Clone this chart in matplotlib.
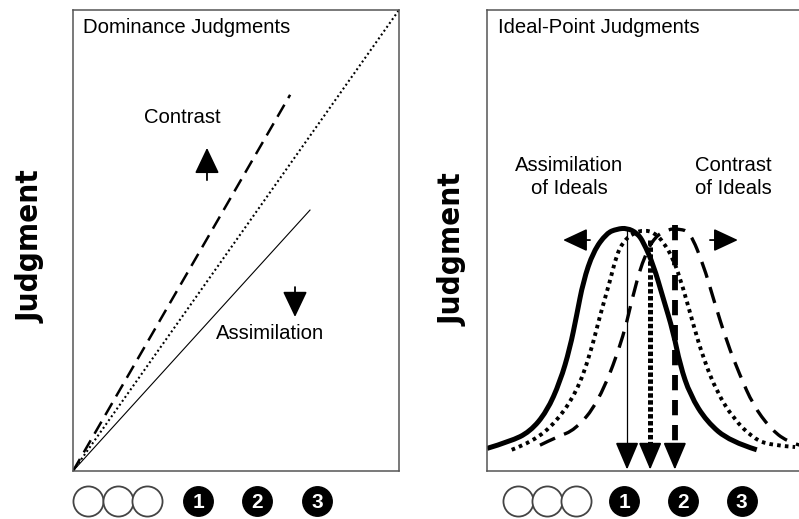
import matplotlib
matplotlib.use("Agg")
import matplotlib.pyplot as plt
from matplotlib import font_manager
from matplotlib.path import Path
from matplotlib.patches import PathPatch

plt.rcParams['font.family'] = ['Liberation Sans', 'DejaVu Sans']
plt.rcParams['lines.scale_dashes'] = False

# ---- data (stimulus scale 0..100, judgment scale 0..100) ----
# left panel: dominance judgments, straight lines from the origin
dom_identity_x = [0, 100]
dom_identity_y = [0, 100]
dom_contrast_x = [0, 66.6]
dom_contrast_y = [0, 81.6]
dom_assim_x = [0, 72.7]
dom_assim_y = [0, 56.6]

# right panel: ideal-point curves
ideal_solid_x = [0.0, 7.1, 13.2, 18.4, 22.5, 25.5, 27.6, 29.6, 32.7, 36.8, 40.0, 43.1,
                 46.2, 48.1, 51.2, 54.2, 57.3, 59.4, 62.5, 67.6, 74.8, 83.0]
ideal_solid_y = [4.9, 6.4, 8.5, 12.9, 19.4, 26.6, 33.8, 41.1, 47.6, 51.6, 52.5, 52.7,
                 51.6, 49.7, 44.7, 37.5, 30.2, 23.0, 16.5, 10.7, 6.4, 4.6]
ideal_dotted_x = [7.6, 14.2, 21.4, 27.6, 31.7, 34.8, 37.8, 39.9, 41.9, 44.9, 48.6, 51.7,
                  54.2, 57.3, 60.4, 63.5, 66.6, 70.7, 75.8, 81.9, 87.1, 94.8]
ideal_dotted_y = [4.6, 6.4, 10.7, 17.2, 25.2, 33.8, 41.1, 46.9, 49.7, 51.6, 52.3, 51.6,
                  49.7, 46.1, 39.6, 31.7, 24.4, 17.2, 11.4, 7.1, 5.6, 5.2]
ideal_dashed_x = [16.3, 21.5, 27.1, 34.2, 41.5, 45.5, 48.6, 51.7, 55.7, 59.4, 62.5,
                  66.6, 69.6, 73.8, 77.8, 81.9, 87.1, 92.2, 96.3]
ideal_dashed_y = [5.6, 7.4, 8.9, 14.8, 27.8, 39.9, 46.9, 50.8, 52.5, 52.5, 51.8,
                  44.7, 37.5, 28.0, 20.8, 14.3, 9.3, 6.4, 5.6]

# ideal points (x) and top of each drop line (y)
ideal_points = [43.1, 50.2, 57.8]
ideal_tops = [52.7, 50.1, 53.4]

# stimulus circles under each panel
left_anchor_x = [4.7, 13.7, 22.6]
left_stim_x = [38.4, 56.4, 74.8]
right_anchor_x = [9.4, 18.6, 27.3]
right_stim_x = [42.2, 60.4, 78.4]
stim_labels = ['1', '2', '3']

FS = 14.6

fig = plt.figure(figsize=(7.99, 5.19), dpi=100)
ax1 = fig.add_axes([73 / 799, 48 / 519, 326 / 799, 461 / 519])
ax2 = fig.add_axes([487 / 799, 48 / 519, 325 / 799, 461 / 519])

for ax in (ax1, ax2):
    ax.set_xlim(0, 100)
    ax.set_ylim(0, 100)
    ax.set_xticks([])
    ax.set_yticks([])
    for s in ax.spines.values():
        s.set_color('#555555')
        s.set_linewidth(1.1)


def arrow(ax, xy, xytext, hl=0.8, hw=0.38, ms=20):
    ax.annotate('', xy=xy, xytext=xytext,
                arrowprops=dict(arrowstyle='-|>,head_length=%s,head_width=%s' % (hl, hw),
                                mutation_scale=ms, color='black', lw=1.3,
                                shrinkA=0, shrinkB=0))


def smooth_curve(ax, xs, ys, **kw):
    # quadratic bezier through midpoints, read points act as control points
    pts = list(zip(xs, ys))
    verts = [pts[0]]
    codes = [Path.MOVETO]
    for i in range(1, len(pts) - 1):
        mid = ((pts[i][0] + pts[i + 1][0]) / 2, (pts[i][1] + pts[i + 1][1]) / 2)
        if i == len(pts) - 2:
            mid = pts[-1]
        verts += [pts[i], mid]
        codes += [Path.CURVE3, Path.CURVE3]
    ax.add_patch(PathPatch(Path(verts, codes), fill=False, edgecolor='black',
                           capstyle='butt', joinstyle='round', **kw))


def circles(ax, anchors, stims):
    tr = ax.get_xaxis_transform()
    ax.scatter(anchors, [-0.064] * len(anchors), s=470, transform=tr, clip_on=False,
               facecolor='white', edgecolor='#444444', linewidth=1.3, zorder=5)
    ax.scatter(stims, [-0.064] * len(stims), s=450, transform=tr, clip_on=False,
               facecolor='black', edgecolor='black', zorder=5)
    for x, lab in zip(stims, stim_labels):
        ax.text(x, -0.064, lab, transform=tr, color='white', fontsize=15,
                fontweight='bold', ha='center', va='center_baseline', zorder=6)


# ---- left panel ----
ax1.plot(dom_identity_x, dom_identity_y, color='black', lw=1.5, dashes=(1.4, 2.0))
ax1.plot(dom_contrast_x, dom_contrast_y, color='black', lw=1.8, dashes=(10, 5.5))
ax1.plot(dom_assim_x, dom_assim_y, color='black', lw=0.8)
ax1.text(3.1, 96.3, 'Dominance Judgments', fontsize=FS, va='center', ha='left')
ax1.text(33.4, 76.6, 'Contrast', fontsize=FS, ha='center', va='center')
ax1.text(60.4, 29.9, 'Assimilation', fontsize=FS, ha='center', va='center')
arrow(ax1, (41.1, 70.1), (41.1, 63.1))
arrow(ax1, (68.1, 33.4), (68.1, 39.9))
circles(ax1, left_anchor_x, left_stim_x)

# ---- right panel ----
smooth_curve(ax2, ideal_solid_x, ideal_solid_y, lw=3.6)
smooth_curve(ax2, ideal_dotted_x, ideal_dotted_y, lw=2.8, linestyle=(0, (2.6, 3.0)))
smooth_curve(ax2, ideal_dashed_x, ideal_dashed_y, lw=2.4, linestyle=(0, (12, 7)))

head_base = 5.2
ax2.plot([ideal_points[0]] * 2, [ideal_tops[0], head_base], color='black', lw=0.9)
ax2.plot([ideal_points[1]] * 2, [ideal_tops[1], head_base], color='black', lw=3.6,
         dashes=(3.2, 1.8))
ax2.plot([ideal_points[2]] * 2, [ideal_tops[2], head_base], color='black', lw=4.2,
         dashes=(11, 7))
for x in ideal_points:
    arrow(ax2, (x, 0.3), (x, head_base + 0.5), hl=0.85, hw=0.36)

ax2.text(3.4, 96.3, 'Ideal-Point Judgments', fontsize=FS, va='center', ha='left')
ax2.text(25.2, 63.8, 'Assimilation\nof Ideals', fontsize=FS, ha='center', va='center',
         linespacing=1.25)
ax2.text(75.7, 63.8, 'Contrast\nof Ideals', fontsize=FS, ha='center', va='center',
         linespacing=1.25)
arrow(ax2, (23.4, 50.1), (31.7, 50.1), hl=0.75, hw=0.35)
arrow(ax2, (77.2, 50.1), (68.6, 50.1), hl=0.75, hw=0.35)
circles(ax2, right_anchor_x, right_stim_x)

# condensed bold face for the axis titles if one is installed
label_kw = dict(fontsize=24, fontweight='bold', family=['Liberation Sans'])
for f in font_manager.fontManager.ttflist:
    if f.stretch in ('condensed', 'semi-condensed') and f.weight in ('bold', 700):
        if f.name in ('Liberation Sans Narrow', 'DejaVu Sans', 'Noto Sans', 'Open Sans'):
            label_kw = dict(fontsize=22.5, fontweight='bold', family=[f.name],
                            fontstretch=f.stretch)
            break

for xpos, ypos in ((31 / 799, 1 - 247 / 519), (453 / 799, 1 - 250 / 519)):
    fig.text(xpos, ypos, 'Judgment', rotation=90, ha='center', va='center', **label_kw)

fig.savefig('out.png', dpi=100)
